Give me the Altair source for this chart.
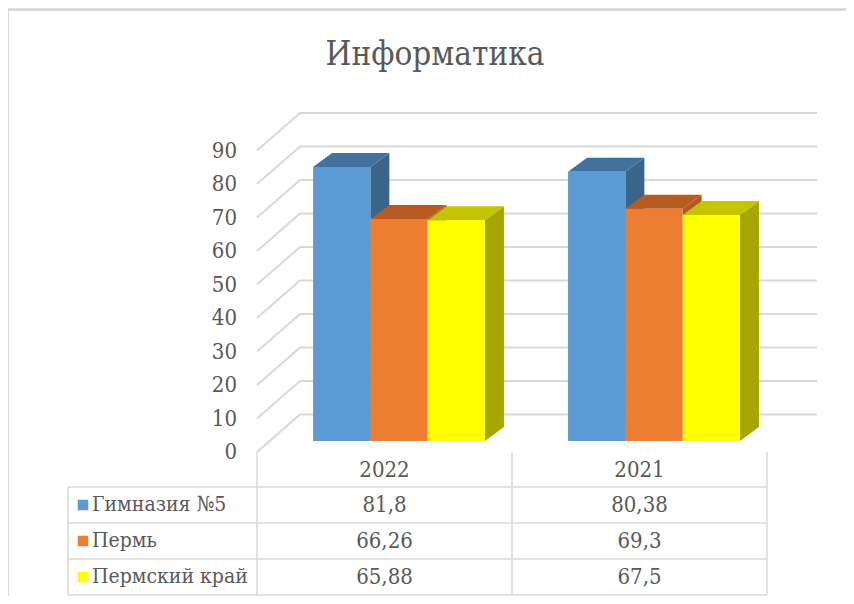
import altair as alt
import pandas as pd

# ---- data ----
title_text = "Информатика"
years = ["2022", "2021"]
series = ["Гимназия №5", "Пермь", "Пермский край"]
values_2022 = [81.8, 66.26, 65.88]
values_2021 = [80.38, 69.3, 67.5]
labels_2022 = ["81,8", "66,26", "65,88"]
labels_2021 = ["80,38", "69,3", "67,5"]
ticks = [0, 10, 20, 30, 40, 50, 60, 70, 80, 90]

# ---- styles ----
front_colors = ["#5B9BD5", "#ED7D31", "#FFFF00"]
side_colors = ["#3A6589", "#B05A20", "#A6A600"]
top_colors = ["#41719C", "#B65C22", "#C4C400"]
GRID = "#D9D9D9"
TXT = "#595959"
FONT = "DejaVu Serif Condensed"

# ---- layout (pixels of the plot area; y in value units) ----
W, H = 838, 588
K = 3.35          # px per value unit
Y0 = 444          # px of front-plane zero


def vu(py):
    return (Y0 - py) / K


XF = 249          # front-left x of the floor
COL = 255         # width of a category column
DX = 43           # wall depth, x
DU = 37.5 / K     # wall depth, value units
XR = 809          # right end of back wall
BAR_W = 57.3
BAR_SX = 14.5
BAR_BASE = 11 / K
SDX = 19
SDU = 14 / K
ROW_Y = [497, 533, 569]
HEAD_Y = 462
TABLE_LINES = [479, 515, 551, 587]
TABLE_LEFT = 60

xs = alt.Scale(domain=[0, W], nice=False, zero=False)
ys = alt.Scale(domain=[vu(H), vu(0)], nice=False, zero=False)

all_values = [values_2022, values_2021]
all_labels = [labels_2022, labels_2021]

front_rows, side_rows, top_rows, cell_rows = [], [], [], []
for i, (yr, vals, labs) in enumerate(zip(years, all_values, all_labels)):
    for j, (s, val, lab) in enumerate(zip(series, vals, labs)):
        bid = f"{yr}-{j}"
        x0 = XF + i * COL + (COL - 3 * BAR_W) / 2 + BAR_SX + j * BAR_W
        x1 = x0 + BAR_W
        top = BAR_BASE + val
        front_rows.append(dict(id=bid, series=s, x0=x0, x1=x1, lo=BAR_BASE, hi=top))
        side_rows.append(dict(id=bid, series=s, x=x1, lo=BAR_BASE, hi=top))
        side_rows.append(dict(id=bid, series=s, x=x1 + SDX, lo=BAR_BASE + SDU, hi=top + SDU))
        top_rows.append(dict(id=bid, series=s, y=top, xa=x0, xb=x1))
        top_rows.append(dict(id=bid, series=s, y=top + SDU, xa=x0 + SDX, xb=x1 + SDX))
        cell_rows.append(dict(x=XF + i * COL + COL / 2, y=vu(ROW_Y[j]), label=lab))

front_df = pd.DataFrame(front_rows)
side_df = pd.DataFrame(side_rows)
top_df = pd.DataFrame(top_rows)
cell_df = pd.DataFrame(cell_rows)

# gridlines
back_df = pd.DataFrame({"x": [XF + DX] * len(ticks), "x2": [XR] * len(ticks),
                        "y": [t + DU for t in ticks], "y2": [t + DU for t in ticks]})
diag_df = pd.DataFrame({"x": [XF] * len(ticks), "x2": [XF + DX] * len(ticks),
                        "y": ticks, "y2": [t + DU for t in ticks]})
vlines_df = pd.DataFrame({"x": [XF, XF + COL, XF + 2 * COL, TABLE_LEFT],
                          "x2": [XF, XF + COL, XF + 2 * COL, TABLE_LEFT],
                          "y": [0, 0, 0, vu(TABLE_LINES[0])],
                          "y2": [vu(TABLE_LINES[-1])] * 4})
hlines_df = pd.DataFrame({"x": [TABLE_LEFT] * 4, "x2": [XF + 2 * COL] * 4,
                          "y": [vu(p) for p in TABLE_LINES],
                          "y2": [vu(p) for p in TABLE_LINES]})
border_df = pd.DataFrame({"x": [0, 0], "x2": [W, 0], "y": [vu(2), vu(2)], "y2": [vu(2), vu(H)]})

tick_df = pd.DataFrame({"x": [229] * len(ticks), "y": ticks, "label": [str(t) for t in ticks]})
head_df = pd.DataFrame({"x": [XF + i * COL + COL / 2 for i in range(len(years))],
                        "y": [vu(HEAD_Y)] * len(years), "label": years})
legend_df = pd.DataFrame({"series": series, "x": [75] * 3, "xt": [84] * 3,
                          "y": [vu(p) for p in ROW_Y]})
title_df = pd.DataFrame({"x": [427], "y": [vu(57)], "label": [title_text]})

X = lambda f: alt.X(f, scale=xs, axis=None)
Y = lambda f: alt.Y(f, scale=ys, axis=None)


def rules(df, width=2):
    return alt.Chart(df).mark_rule(color=GRID, strokeWidth=width).encode(
        x=X("x:Q"), x2="x2:Q", y=Y("y:Q"), y2="y2:Q")


def col(rng):
    return alt.Color("series:N", scale=alt.Scale(domain=series, range=rng), legend=None)


sides = alt.Chart(side_df).mark_area(orient="vertical", opacity=1).encode(
    x=X("x:Q"), y=Y("lo:Q"), y2="hi:Q", detail="id:N", color=col(side_colors))
tops = alt.Chart(top_df).mark_area(orient="horizontal", opacity=1).encode(
    y=Y("y:Q"), x=X("xa:Q"), x2="xb:Q", detail="id:N", color=col(top_colors))
fronts = alt.Chart(front_df).mark_rect(opacity=1).encode(
    x=X("x0:Q"), x2="x1:Q", y=Y("lo:Q"), y2="hi:Q", color=col(front_colors))

text_kw = dict(font=FONT, color=TXT)
tick_text = alt.Chart(tick_df).mark_text(align="right", baseline="middle", fontSize=22, **text_kw).encode(
    x=X("x:Q"), y=Y("y:Q"), text="label:N")
head_text = alt.Chart(head_df).mark_text(align="center", baseline="middle", fontSize=22, **text_kw).encode(
    x=X("x:Q"), y=Y("y:Q"), text="label:N")
cell_text = alt.Chart(cell_df).mark_text(align="center", baseline="middle", fontSize=22, **text_kw).encode(
    x=X("x:Q"), y=Y("y:Q"), text="label:N")
legend_sq = alt.Chart(legend_df).mark_square(size=110, opacity=1).encode(
    x=X("x:Q"), y=Y("y:Q"), color=col(front_colors))
legend_text = alt.Chart(legend_df).mark_text(align="left", baseline="middle", fontSize=21, **text_kw).encode(
    x=X("xt:Q"), y=Y("y:Q"), text="series:N")
title_mark = alt.Chart(title_df).mark_text(align="center", baseline="alphabetic", fontSize=33, **text_kw).encode(
    x=X("x:Q"), y=Y("y:Q"), text="label:N")

chart = alt.layer(
    rules(border_df, 2), rules(back_df, 2), rules(diag_df, 2),
    rules(vlines_df, 1.5), rules(hlines_df, 1.5),
    sides, tops, fronts,
    tick_text, head_text, cell_text, legend_sq, legend_text, title_mark,
).resolve_scale(color="independent").properties(
    width=W, height=H, padding=0, autosize=alt.AutoSizeParams(type="none")
).configure_view(stroke=None).configure(background="white")

chart.save("out.html", embed_options={"renderer": "svg", "actions": False})
